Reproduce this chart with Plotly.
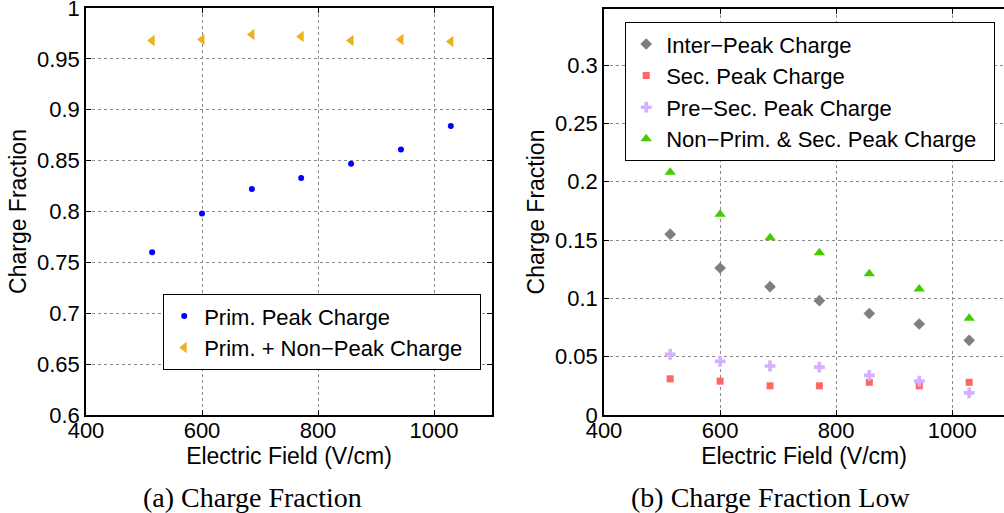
import plotly.graph_objects as go

W, H = 1004, 513

# ---- data ----
field = [514, 600, 686, 771, 857, 943, 1029]

prim_peak = [0.760, 0.798, 0.822, 0.833, 0.847, 0.861, 0.884]
prim_nonpeak = [0.968, 0.969, 0.974, 0.972, 0.968, 0.969, 0.967]

inter_peak = [0.155, 0.126, 0.110, 0.098, 0.087, 0.078, 0.064]
sec_peak = [0.031, 0.029, 0.025, 0.025, 0.028, 0.025, 0.028]
pre_sec_peak = [0.052, 0.046, 0.042, 0.041, 0.034, 0.029, 0.019]
non_prim_sec = [0.208, 0.172, 0.152, 0.139, 0.121, 0.108, 0.083]

left_yticks = [0.6, 0.65, 0.7, 0.75, 0.8, 0.85, 0.9, 0.95, 1]
left_yticktext = ["0.6", "0.65", "0.7", "0.75", "0.8", "0.85", "0.9", "0.95", "1"]
right_yticks = [0, 0.05, 0.1, 0.15, 0.2, 0.25, 0.3]
right_yticktext = ["0", "0.05", "0.1", "0.15", "0.2", "0.25", "0.3"]
xticks = [400, 600, 800, 1000]

FONT = "Liberation Sans, Arial, sans-serif"
SERIF = "Liberation Serif, DejaVu Serif, serif"
NB = "\u00a0"

fig = go.Figure()

# left panel
fig.add_trace(go.Scatter(x=field, y=prim_peak, mode="markers", name="Prim. Peak Charge",
                         marker=dict(symbol="circle", size=6, color="#0000ff"),
                         xaxis="x", yaxis="y", legend="legend"))
fig.add_trace(go.Scatter(x=field, y=prim_nonpeak, mode="markers", name="Prim. + Non\u2212Peak Charge" + NB * 2,
                         marker=dict(symbol="triangle-left", size=10, color="#EDB120"),
                         xaxis="x", yaxis="y", legend="legend"))

# right panel
fig.add_trace(go.Scatter(x=field, y=inter_peak, mode="markers", name="Inter\u2212Peak Charge",
                         marker=dict(symbol="diamond", size=9, color="#7f7f7f"),
                         xaxis="x2", yaxis="y2", legend="legend2"))
fig.add_trace(go.Scatter(x=field, y=sec_peak, mode="markers", name="Sec. Peak Charge",
                         marker=dict(symbol="square", size=7, color="#ff6666"),
                         xaxis="x2", yaxis="y2", legend="legend2"))
fig.add_trace(go.Scatter(x=field, y=pre_sec_peak, mode="markers", name="Pre\u2212Sec. Peak Charge",
                         marker=dict(symbol="cross", size=9, color="#d4b0ff"),
                         xaxis="x2", yaxis="y2", legend="legend2"))
fig.add_trace(go.Scatter(x=field, y=non_prim_sec, mode="markers", name="Non\u2212Prim. & Sec. Peak Charge" + NB * 2,
                         marker=dict(symbol="triangle-up", size=10, color="#44cc00"),
                         xaxis="x2", yaxis="y2", legend="legend2"))

def px_x(p):
    return p / W

def px_y(p):
    return 1 - p / H

axis_common = dict(
    showgrid=True, gridcolor="#8a8a8a", griddash="dot", gridwidth=1,
    showline=True, linecolor="black", linewidth=1.5,
    ticks="inside", ticklen=5, tickcolor="black",
    tickfont=dict(family=FONT, size=22, color="black"),
    zeroline=False, automargin=False, ticklabeloverflow="allow",
)

fig.update_layout(
    width=W, height=H,
    margin=dict(l=0, r=0, t=0, b=0, autoexpand=False),
    paper_bgcolor="white", plot_bgcolor="white",
    font=dict(family=FONT, color="black"),
    xaxis=dict(domain=[px_x(86), px_x(492)], range=[400, 1100], tickvals=xticks,
               mirror="ticks", anchor="y", ticklabelstandoff=-5,
               title=dict(text="Electric Field (V/cm)", font=dict(family=FONT, size=23), standoff=1),
               **axis_common),
    yaxis=dict(domain=[px_y(415), px_y(8)], range=[0.6, 1], tickvals=left_yticks, ticktext=left_yticktext,
               mirror="ticks", anchor="x",
               title=dict(text="Charge Fraction", font=dict(family=FONT, size=23), standoff=4),
               **axis_common),
    xaxis2=dict(domain=[px_x(604), 1], range=[400, 1089], tickvals=xticks,
                mirror="ticks", anchor="y2", ticklabelstandoff=-5,
                title=dict(text="Electric Field (V/cm)", font=dict(family=FONT, size=23), standoff=1),
                **axis_common),
    yaxis2=dict(domain=[px_y(415), px_y(9)], range=[0, 0.348], tickvals=right_yticks, ticktext=right_yticktext,
                mirror=False, anchor="x2",
                title=dict(text="Charge Fraction", font=dict(family=FONT, size=23), standoff=4),
                **axis_common),
    legend=dict(x=px_x(163), y=px_y(294), xanchor="left", yanchor="top",
                bgcolor="white", bordercolor="black", borderwidth=1.2,
                font=dict(family=FONT, size=22, color="black"),
                itemsizing="trace", tracegroupgap=0),
    legend2=dict(x=px_x(625), y=px_y(22), xanchor="left", yanchor="top",
                 bgcolor="white", bordercolor="black", borderwidth=1.2,
                 font=dict(family=FONT, size=22, color="black"),
                 itemsizing="trace", tracegroupgap=0),
    annotations=[
        dict(text="(a) Charge Fraction", x=px_x(252), y=px_y(497), xref="paper", yref="paper",
             showarrow=False, xanchor="center", yanchor="middle",
             font=dict(family=SERIF, size=28, color="black")),
        dict(text="(b) Charge Fraction Low", x=px_x(770), y=px_y(497), xref="paper", yref="paper",
             showarrow=False, xanchor="center", yanchor="middle",
             font=dict(family=SERIF, size=28, color="black")),
    ],
    showlegend=True,
)

fig.write_html("out.html")
